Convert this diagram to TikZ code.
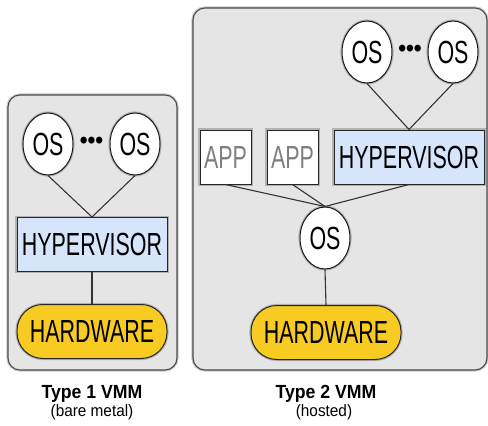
\documentclass[tikz,border=0pt]{standalone}
\usepackage{fontspec}
\usepackage{tikz}
\usetikzlibrary{shapes.geometric}

\newfontfamily\boxfont[FakeStretch=0.67]{Liberation Sans}
\newfontfamily\capfont[FakeStretch=0.93]{Liberation Sans}

\definecolor{panelgray}{HTML}{E5E5E5}
\definecolor{hypblue}{HTML}{D6E5FA}
\definecolor{hwgold}{HTML}{F8CB22}
\definecolor{appgray}{HTML}{7F7F7F}

\begin{document}
\begin{tikzpicture}[x=1pt, y=-1pt]
        \tikzstyle{every node}=[inner sep=0pt, font=\boxfont\fontsize{32}{34}\selectfont]
        \tikzstyle{halo}=[preaction={draw=black, opacity=0.22, line width=3.2pt}]
        \tikzstyle{os}=[ellipse, draw=black!90, fill=white, line width=1pt, halo, minimum width=50pt, minimum height=62pt]
        \tikzstyle{hyp}=[rectangle, draw=black!85, fill=hypblue, line width=1pt, halo, minimum width=150pt, minimum height=54pt]
        \tikzstyle{hw}=[rectangle, rounded corners=26pt, draw=black!85, fill=hwgold, line width=1pt, halo, minimum width=150pt, minimum height=54pt]
        \tikzstyle{app}=[rectangle, draw=black!85, fill=white, line width=1pt, halo, text=appgray, minimum width=51pt, minimum height=54pt]
        \tikzstyle{dots}=[font=\capfont\fontsize{24}{24}\selectfont\bfseries]
        \tikzstyle{link}=[draw=black!80, line width=1.1pt]
        \tikzstyle{title}=[anchor=base, font=\capfont\bfseries\fontsize{19}{20}\selectfont]
        \tikzstyle{subtitle}=[anchor=base, font=\capfont\fontsize{16.5}{18}\selectfont]

        \useasboundingbox (0,0) rectangle (488,426);

        % panels
        \draw[halo, draw=black!70, fill=panelgray, line width=1.1pt, rounded corners=12pt] (8,95) rectangle (177,370);
        \draw[halo, draw=black!70, fill=panelgray, line width=1.1pt, rounded corners=12pt] (193,8) rectangle (487,370);

        % type 1
        \node[os]   (os1a) at (48,144)    {OS};
        \node[os]   (os1b) at (135,144)   {OS};
        \node[dots] (dots1) at (91.5,143) {•••};
        \node[hyp]  (hyp1) at (92,244.5)  {HYPERVISOR};
        \node[hw]   (hw1)  at (92,331.5)  {HARDWARE};

        \draw[link] (os1a.south) -- (hyp1.north);
        \draw[link] (os1b.south) -- (hyp1.north);
        \draw[link] (hyp1.south) -- (hw1.north);

        % type 2
        \node[os]   (os2a) at (367,52)    {OS};
        \node[os]   (os2b) at (453,52)    {OS};
        \node[dots] (dots2) at (410,51)   {•••};
        \node[app]  (app1) at (225.5,157) {APP};
        \node[app]  (app2) at (292.5,157) {APP};
        \node[hyp]  (hyp2) at (409,157)   {HYPERVISOR};
        \node[os]   (os2)  at (325,238)   {OS};
        \node[hw]   (hw2)  at (326,332.5) {HARDWARE};

        \draw[link] (os2a.south) -- (hyp2.north);
        \draw[link] (os2b.south) -- (hyp2.north);
        \draw[link] (app1.south) -- (os2.north);
        \draw[link] (app2.south) -- (os2.north);
        \draw[link] (hyp2.south) -- (os2.north);
        \draw[link] (os2.south) -- (hw2.north);

        \node[title]    (cap1) at (92,398)  {Type 1 VMM};
        \node[subtitle] (sub1) at (92,416)  {(bare metal)};
        \node[title]    (cap2) at (326,398) {Type 2 VMM};
        \node[subtitle] (sub2) at (324,416) {(hosted)};

    \end{tikzpicture}
\end{document}
